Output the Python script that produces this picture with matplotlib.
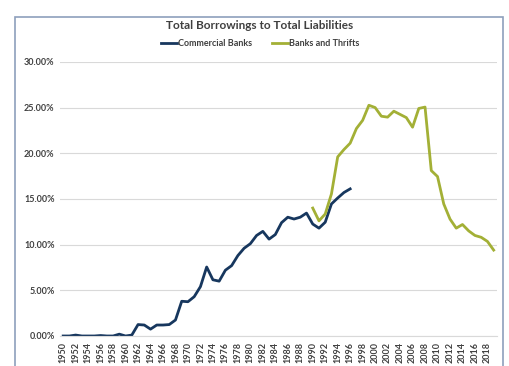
import matplotlib
matplotlib.use('Agg')
import matplotlib.pyplot as plt
from matplotlib.patches import Rectangle
from matplotlib.ticker import FuncFormatter

plt.rcParams['font.family'] = ['Lato', 'DejaVu Sans']

# Commercial Banks, 1950-1996 (percent)
cb_years = list(range(1950, 1997))
cb_values = [0.0, 0.0, 0.1, 0.0, 0.0, 0.0, 0.05, 0.0, 0.0, 0.2,
             0.0, 0.1, 1.25, 1.2, 0.75, 1.2, 1.2, 1.25, 1.75, 3.8,
             3.75, 4.3, 5.4, 7.55, 6.15, 6.0, 7.2, 7.7, 8.8, 9.6,
             10.1, 11.0, 11.45, 10.6, 11.1, 12.4, 13.0, 12.8, 13.0, 13.45,
             12.25, 11.8, 12.45, 14.45, 15.1, 15.7, 16.1]

# Banks and Thrifts, 1990-2019 (percent)
bt_years = list(range(1990, 2020))
bt_values = [14.0, 12.6, 13.35, 15.55, 19.6, 20.4, 21.1, 22.7, 23.6, 25.25,
             25.0, 24.05, 23.95, 24.6, 24.25, 23.9, 22.85, 24.9, 25.05, 18.1,
             17.45, 14.45, 12.8, 11.8, 12.2, 11.5, 11.0, 10.8, 10.35, 9.4]

fig = plt.figure(figsize=(5.09, 3.66), dpi=100)
ax = fig.add_axes([0.118, 0.082, 0.858, 0.749])

ax.plot(cb_years, cb_values, color='#17375e', lw=2.0, label='Commercial Banks')
ax.plot(bt_years, bt_values, color='#a3b036', lw=2.0, label='Banks and Thrifts')

ax.set_xlim(1949.5, 2019.5)
ax.set_ylim(0, 30)
ax.set_yticks(range(0, 31, 5))
ax.yaxis.set_major_formatter(FuncFormatter(lambda v, p: '%.2f%%' % v))
ax.set_xticks(range(1950, 2019, 2))
ax.set_xticklabels([str(y) for y in range(1950, 2019, 2)], rotation=90)
ax.tick_params(axis='both', length=0, labelsize=6.5, colors='#404040', pad=4)
for lbl in ax.get_xticklabels() + ax.get_yticklabels():
    lbl.set_fontweight('bold')
ax.grid(axis='y', color='#d9d9d9', lw=0.8)
ax.set_axisbelow(True)
for s in ['top', 'right', 'left']:
    ax.spines[s].set_visible(False)
ax.spines['bottom'].set_color('#d9d9d9')

fig.text(0.511, 0.93, 'Total Borrowings to Total Liabilities', ha='center',
         va='center', fontsize=8.5, fontweight='bold', color='#404040')
leg = fig.legend(loc='center', bbox_to_anchor=(0.511, 0.882), ncol=2, frameon=False,
                 fontsize=6.5, handlelength=1.8, handletextpad=0.1, columnspacing=2.2,
                 labelcolor='#404040')
for t in leg.get_texts():
    t.set_fontweight('bold')

fig.add_artist(Rectangle((15 / 509, -0.05), 488 / 509, 1 - 17 / 366 + 0.05,
                         transform=fig.transFigure, fill=False,
                         edgecolor='#8ea0bc', lw=1.2))

fig.savefig('out.png', dpi=100)
